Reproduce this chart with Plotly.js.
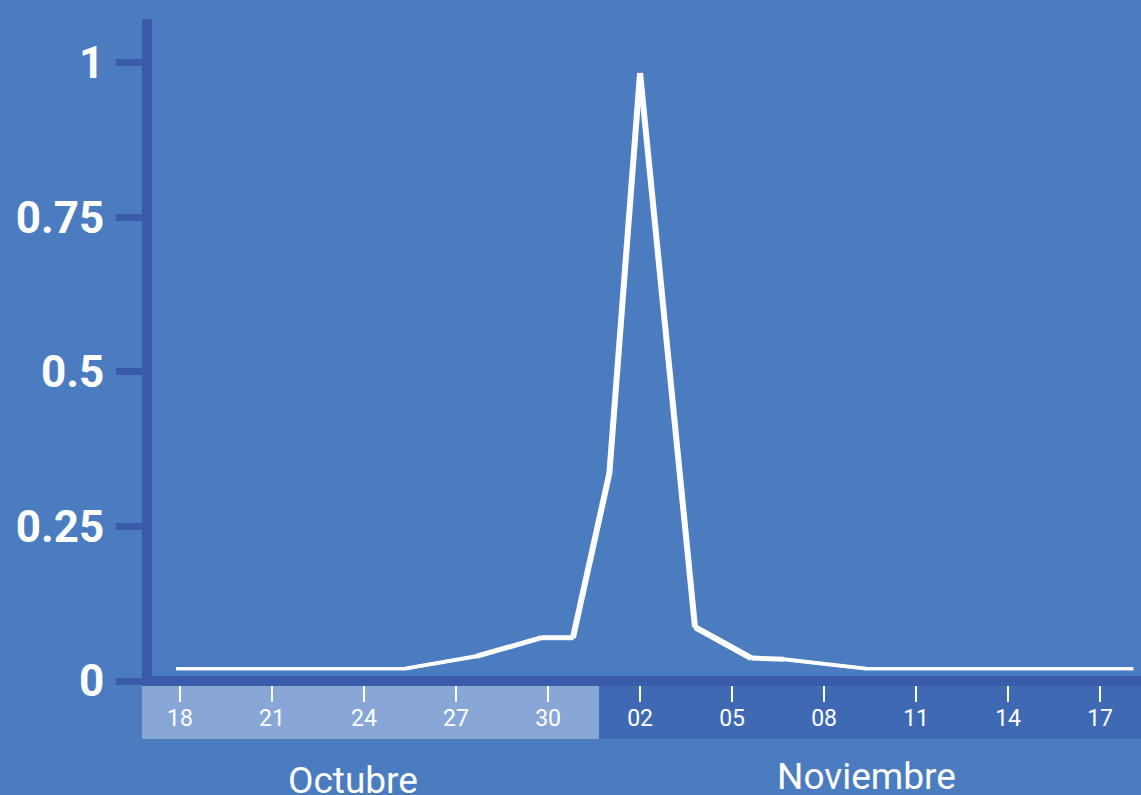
<!DOCTYPE html>
<html>
<head>
<meta charset="utf-8">
<script src="https://cdn.plot.ly/plotly-3.0.1.min.js"></script>
<style>html,body{margin:0;padding:0;background:#4B7CBF;}#chart{width:1141px;height:795px;}</style>
</head>
<body>
<div id="chart"></div>
<script>
// ---- data ----
const dates = ["2018-10-17 21:00","2018-10-25 08:00","2018-10-27 16:00","2018-10-29 19:00","2018-10-30 19:30","2018-11-01 00:00","2018-11-02 00:00","2018-11-03 19:00","2018-11-05 15:00","2018-11-06 16:30","2018-11-09 09:00","2018-11-18 02:00"];
const values = [0.02, 0.02, 0.04, 0.07, 0.07, 0.336, 0.983, 0.087, 0.037, 0.035, 0.02, 0.02];
const tickDates = ["2018-10-18","2018-10-21","2018-10-24","2018-10-27","2018-10-30","2018-11-02","2018-11-05","2018-11-08","2018-11-11","2018-11-14","2018-11-17"];
const tickLabels = ["18","21","24","27","30","02","05","08","11","14","17"];
const yTicks = [0, 0.25, 0.5, 0.75, 1];
const yTickLabels = ["0","0.25","0.5","0.75","1"];
const months = ["Octubre","Noviembre"];
const monthCenters = ["2018-10-23 15:00","2018-11-09 09:00"];
const monthBoundary = "2018-10-31 16:00";

// ---- style ----
const BG = "#4B7CBF", AXIS = "#3A5BA9", LIGHT = "#89A7D6", DARK = "#3F69B3";
const segWidths = [3, 4, 5, 5, 6, 6, 6, 6, 5, 4, 3];
const xRange = ["2018-10-16 22:10", "2018-11-18 08:00"];
const PW = 994, PH = 662; // plot area size in px

function toFrac(d) {
  const t = s => new Date(s.length > 10 ? s.replace(" ", "T") + ":00Z" : s + "T00:00:00Z").getTime();
  return (t(d) - t(xRange[0])) / (t(xRange[1]) - t(xRange[0]));
}

const traces = [{
  x: dates, y: values, mode: "lines", type: "scatter",
  line: {color: "#ffffff", width: 3}, hoverinfo: "skip", showlegend: false
}];
for (let i = 0; i < dates.length - 1; i++) {
  traces.push({
    x: [dates[i], dates[i+1]], y: [values[i], values[i+1]],
    mode: "lines", type: "scatter",
    line: {color: "#ffffff", width: segWidths[i]},
    hoverinfo: "skip", showlegend: false
  });
}

const bFrac = toFrac(monthBoundary);
const px = v => v / PW, py = v => v / PH;

const layout = {
  width: 1141, height: 795,
  margin: {l: 147, r: 0, t: 19, b: 114, pad: 0},
  paper_bgcolor: BG, plot_bgcolor: "rgba(0,0,0,0)",
  font: {family: "Roboto, sans-serif", color: "#ffffff"},
  xaxis: {
    type: "date",
    range: xRange,
    tickvals: tickDates, ticktext: tickLabels,
    showgrid: false, zeroline: false, showline: false,
    ticks: "outside", ticklen: 20, tickwidth: 2, tickcolor: "#ffffff",
    ticklabelstandoff: -4,
    tickfont: {family: "Roboto, sans-serif", size: 23, color: "#ffffff"},
    fixedrange: true
  },
  yaxis: {
    range: [0, 1.0703],
    tickvals: yTicks, ticktext: yTickLabels,
    showgrid: false, zeroline: false, showline: false,
    ticks: "outside", ticklen: 30, tickwidth: 7, tickcolor: AXIS,
    ticklabelstandoff: 3,
    tickfont: {family: "Roboto, sans-serif", size: 44, color: "#ffffff", weight: "bold"},
    fixedrange: true
  },
  shapes: [
    // month bands
    {type: "rect", xref: "paper", yref: "paper", x0: -px(5), x1: bFrac, y0: -py(58), y1: -py(5), fillcolor: LIGHT, line: {width: 0}, layer: "below"},
    {type: "rect", xref: "paper", yref: "paper", x0: bFrac, x1: 1, y0: -py(58), y1: -py(5), fillcolor: DARK, line: {width: 0}, layer: "below"},
    // axis lines
    {type: "rect", xref: "paper", yref: "paper", x0: -px(5), x1: px(5), y0: -py(5), y1: 1, fillcolor: AXIS, line: {width: 0}, layer: "above"},
    {type: "rect", xref: "paper", yref: "paper", x0: -px(5), x1: 1, y0: -py(5), y1: py(5), fillcolor: AXIS, line: {width: 0}, layer: "above"}
  ],
  annotations: [
    {text: months[0], x: monthCenters[0], xref: "x", y: -py(99), yref: "paper", yanchor: "middle", showarrow: false, font: {family: "Roboto, sans-serif", size: 37, color: "#ffffff"}},
    {text: months[1], x: monthCenters[1], xref: "x", y: -py(95), yref: "paper", yanchor: "middle", showarrow: false, font: {family: "Roboto, sans-serif", size: 37, color: "#ffffff"}}
  ]
};

Plotly.newPlot("chart", traces, layout, {displayModeBar: false, staticPlot: true});
</script>
</body>
</html>
